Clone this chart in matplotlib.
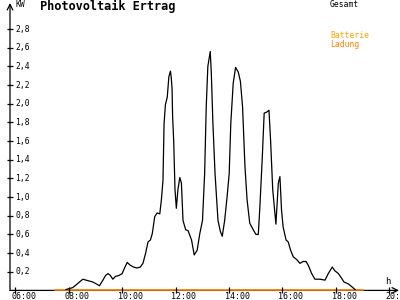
import matplotlib
matplotlib.use('Agg')
import matplotlib.pyplot as plt
from matplotlib.transforms import blended_transform_factory, offset_copy

plt.rcParams['font.family'] = ['DejaVu Sans Mono']

# Gesamt (kW) over time of day (hours)
zeit = [7.90, 8.03, 8.15, 8.28, 8.40, 8.53, 8.65, 8.78, 8.90, 9.03,
        9.15, 9.28, 9.38, 9.47, 9.56, 9.65, 9.75, 9.88, 10.00, 10.09,
        10.19, 10.30, 10.43, 10.55, 10.68, 10.78, 10.88, 10.97, 11.06, 11.13,
        11.22, 11.31, 11.41, 11.47, 11.53, 11.57, 11.62, 11.69, 11.75, 11.81,
        11.84, 11.87, 11.89, 11.93, 11.98, 12.03, 12.09, 12.16, 12.22, 12.28,
        12.38, 12.47, 12.60, 12.70, 12.81, 12.91, 13.01, 13.09, 13.15, 13.21,
        13.30, 13.34, 13.40, 13.48, 13.59, 13.68, 13.75, 13.84, 13.93, 14.01,
        14.07, 14.16, 14.25, 14.35, 14.43, 14.51, 14.60, 14.68, 14.78, 14.91,
        15.01, 15.10, 15.16, 15.25, 15.32, 15.41, 15.50, 15.56, 15.64, 15.76,
        15.85, 15.91, 15.97, 16.03, 16.14, 16.22, 16.31, 16.41, 16.54, 16.66,
        16.78, 16.89, 16.97, 17.10, 17.22, 17.41, 17.60, 17.72, 17.87, 17.97,
        18.10, 18.22, 18.31, 18.47, 18.60, 18.76]
gesamt = [0.01, 0.02, 0.03, 0.06, 0.09, 0.12, 0.11, 0.10, 0.09, 0.07,
          0.05, 0.11, 0.16, 0.18, 0.16, 0.12, 0.15, 0.16, 0.18, 0.24,
          0.30, 0.27, 0.25, 0.24, 0.25, 0.29, 0.40, 0.52, 0.54, 0.61,
          0.79, 0.83, 0.82, 0.97, 1.18, 1.78, 1.99, 2.07, 2.29, 2.35,
          2.28, 2.16, 1.87, 1.61, 1.08, 0.88, 1.08, 1.21, 1.15, 0.75,
          0.65, 0.64, 0.54, 0.38, 0.43, 0.61, 0.75, 1.25, 1.97, 2.40,
          2.56, 2.33, 1.79, 1.25, 0.75, 0.63, 0.58, 0.75, 1.00, 1.25,
          1.79, 2.22, 2.39, 2.34, 2.24, 1.97, 1.33, 0.97, 0.72, 0.65,
          0.60, 0.60, 0.90, 1.43, 1.90, 1.91, 1.93, 1.61, 1.08, 0.71,
          1.15, 1.22, 0.86, 0.68, 0.54, 0.52, 0.43, 0.36, 0.33, 0.29,
          0.31, 0.31, 0.27, 0.18, 0.12, 0.12, 0.11, 0.18, 0.25, 0.21,
          0.18, 0.13, 0.09, 0.07, 0.04, 0.00]

# Ladung stays at zero
ladung_zeit = [7.47, 19.02]
ladung = [0.0, 0.0]

x_ticks = [6, 8, 10, 12, 14, 16, 18, 20]
x_labels = ['06:00', '08:00', '10:00', '12:00', '14:00', '16:00', '18:00', '20:00']
y_ticks = [0.2, 0.4, 0.6, 0.8, 1.0, 1.2, 1.4, 1.6, 1.8, 2.0, 2.2, 2.4, 2.6, 2.8]

x0, x1 = 5.8, 20.37
y0, y1 = 0, 3.08

fig = plt.figure(figsize=(4, 3), dpi=100)
ax = fig.add_axes([0.025, 0.032, 0.9725, 0.958])
ax.set_xlim(x0, x1)
ax.set_ylim(y0, y1)
ax.axis('off')

# axes with arrow heads
ax.annotate('', xy=(x1, 0), xytext=(x0, 0), annotation_clip=False,
            arrowprops=dict(arrowstyle='->', color='black', lw=0.9, shrinkA=0, shrinkB=0))
ax.annotate('', xy=(x0, y1), xytext=(x0, 0), annotation_clip=False,
            arrowprops=dict(arrowstyle='->', color='black', lw=0.9, shrinkA=0, shrinkB=0))

ax.plot(ladung_zeit, ladung, color='#ff8000', lw=1.2, clip_on=False, zorder=3)
ax.plot(zeit, gesamt, color='black', lw=0.9, zorder=4)

# tick marks crossing the axis lines
ax.plot(x_ticks, [0] * len(x_ticks), ls='none', marker='|', color='black',
        markersize=5, mew=0.9, clip_on=False, zorder=5)
ax.plot([x0] * len(y_ticks), y_ticks, ls='none', marker='_', color='black',
        markersize=5, mew=0.9, clip_on=False, zorder=5)

tx = blended_transform_factory(ax.transData, fig.transFigure)
tx = offset_copy(tx, fig=fig, x=-3, y=0, units='points')
for t, lab in zip(x_ticks, x_labels):
    ax.text(t, 0.013, lab, transform=tx, ha='left', va='center', fontsize=6, clip_on=False)

ty = offset_copy(ax.transData, fig=fig, x=3.6, y=0, units='points')
for v in y_ticks:
    ax.text(x0, v, ('%.1f' % v).replace('.', ','), transform=ty, ha='left', va='center', fontsize=5.8)

ax.text(x0, 3.06, 'KW', transform=ty, ha='left', va='center', fontsize=5.8)
ax.text(19.95, 0.1, 'h', ha='center', va='center', fontsize=6.5)

fig.text(0.10, 0.977, 'Photovoltaik Ertrag', fontsize=8.6, fontweight='bold', ha='left', va='center')
fig.text(0.825, 0.985, 'Gesamt', fontsize=5.8, ha='left', va='center', color='black')
fig.text(0.825, 0.88, 'Batterie', fontsize=5.8, ha='left', va='center', color='#ffa500')
fig.text(0.825, 0.853, 'Ladung', fontsize=5.8, ha='left', va='center', color='#ff8000')

fig.savefig('out.png', dpi=100)
